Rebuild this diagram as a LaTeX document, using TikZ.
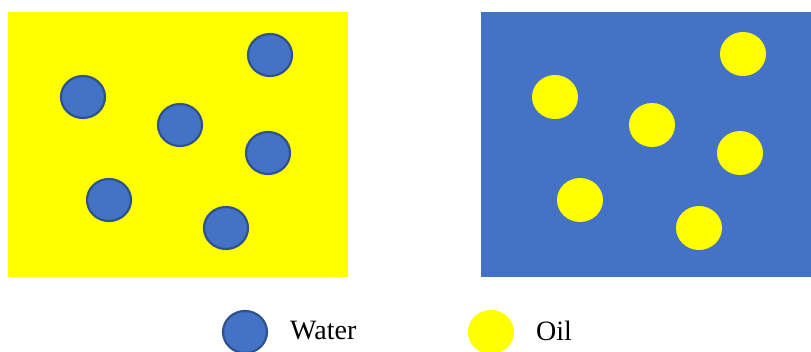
\documentclass[tikz,border=0pt]{standalone}
\usepackage{fontspec}
\setmainfont{Liberation Serif}
\usepackage{xcolor}
\usepackage{tikz}
\usetikzlibrary{shapes.geometric,positioning}
\definecolor{officeblue}{RGB}{68,114,196}
\definecolor{rimblue}{RGB}{47,82,143}
\definecolor{pureyellow}{RGB}{255,255,0}
\tikzset{
  tank/.style={rectangle, inner sep=0pt, anchor=north west},
  wdrop/.style={ellipse, draw=rimblue, line width=2.2pt, fill=officeblue, minimum width=44pt, minimum height=42pt, inner sep=0pt},
  odrop/.style={ellipse, fill=pureyellow, minimum width=46pt, minimum height=44pt, inner sep=0pt},
  legtext/.style={font=\fontsize{28}{30}\selectfont, anchor=west, inner sep=0pt}
}

\begin{document}
\begin{tikzpicture}[x=1pt, y=-1pt]
\useasboundingbox (0,0) rectangle (811,351);
% water-in-oil
\node[tank, fill=pureyellow, minimum width=340pt, minimum height=265pt] (wo) at (8,12) {};
\node[wdrop] (w1) at (83,97) {};
\node[wdrop] (w2) at (270,55) {};
\node[wdrop] (w3) at (180,125) {};
\node[wdrop] (w4) at (268,153) {};
\node[wdrop] (w5) at (109,200) {};
\node[wdrop] (w6) at (226,228) {};
% oil-in-water
\node[tank, fill=officeblue, minimum width=331pt, minimum height=265pt] (ow) at (481,12) {};
\node[odrop] (o1) at (555,97) {};
\node[odrop] (o2) at (743,54) {};
\node[odrop] (o3) at (652,125) {};
\node[odrop] (o4) at (740,153) {};
\node[odrop] (o5) at (580,200) {};
\node[odrop] (o6) at (699,228) {};
% legend
\node[wdrop] (legw) at (245,332) {};
\node[legtext] (legwtxt) at (290,331) {Water};
\node[odrop] (lego) at (491,332) {};
\node[legtext] (legotxt) at (536,331) {Oil};
\end{tikzpicture}
\end{document}
